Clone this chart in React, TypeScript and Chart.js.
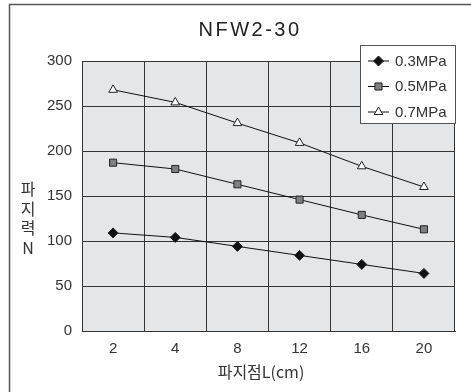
import { useEffect, useRef } from "react";
import { Chart, registerables } from "chart.js";
import { drawPoint } from "chart.js/helpers";

Chart.register(...registerables);

const categories = ["2", "4", "8", "12", "16", "20"];
const values03 = [109, 104, 94, 84, 74, 64];
const values05 = [187, 180, 163, 146, 129, 113];
const values07 = [268, 254, 231, 209, 183, 160];
const seriesLabels = ["0.3MPa", "0.5MPa", "0.7MPa"];
const chartTitle = "NFW2-30";
const yTitleChars = ["파", "지", "력", "N"];
const xTitle = "파지점L(cm)";
const yMin = 0;
const yMax = 300;
const yStep = 50;

const FONT = "'Liberation Sans', 'Noto Sans CJK KR', sans-serif";
const KFONT = "'Noto Sans CJK KR', 'Liberation Sans', sans-serif";

export default function App() {
  const ref = useRef<HTMLCanvasElement | null>(null);

  useEffect(() => {
    const canvas = ref.current;
    if (!canvas) return;

    const extras = {
      id: "extras",
      beforeDraw(chart: any) {
        const { ctx, chartArea } = chart;
        ctx.save();
        ctx.fillStyle = "#ffffff";
        ctx.fillRect(0, 0, chart.width, chart.height);
        ctx.fillStyle = "#e5e6e8";
        ctx.fillRect(chartArea.left, chartArea.top, chartArea.right - chartArea.left, chartArea.bottom - chartArea.top);
        ctx.restore();
      },
      afterDraw(chart: any) {
        const { ctx } = chart;
        ctx.save();
        // frame
        ctx.strokeStyle = "#555";
        ctx.lineWidth = 1.5;
        ctx.beginPath();
        ctx.moveTo(9.5, chart.height);
        ctx.lineTo(9.5, 4.5);
        ctx.lineTo(chart.width, 4.5);
        ctx.stroke();

        // title
        ctx.fillStyle = "#222";
        ctx.font = `20px ${FONT}`;
        (ctx as any).letterSpacing = "2.5px";
        ctx.textAlign = "center";
        ctx.textBaseline = "middle";
        ctx.fillText(chartTitle, 250, 30);
        (ctx as any).letterSpacing = "0px";

        // y title
        ctx.font = `16px ${KFONT}`;
        ctx.fillStyle = "#333";
        yTitleChars.forEach((c, i) => {
          ctx.fillText(c, 28, 189 + i * 19.7);
        });

        // x title
        ctx.font = `16px ${KFONT}`;
        ctx.fillText(xTitle, 261, 372);

        // legend
        const lx = 360.5, ly = 45.5, lw = 95, lh = 78;
        ctx.fillStyle = "#ffffff";
        ctx.fillRect(lx, ly, lw, lh);
        ctx.strokeStyle = "#555";
        ctx.lineWidth = 1;
        ctx.strokeRect(lx, ly, lw, lh);
        const ds = chart.data.datasets;
        ds.forEach((d: any, i: number) => {
          const y = 61 + i * 25.5;
          ctx.strokeStyle = "#111";
          ctx.lineWidth = 1;
          ctx.beginPath();
          ctx.moveTo(368, y);
          ctx.lineTo(389, y);
          ctx.stroke();
          ctx.fillStyle = d.pointBackgroundColor;
          ctx.strokeStyle = d.pointBorderColor;
          ctx.lineWidth = 1;
          drawPoint(ctx, { pointStyle: d.pointStyle, radius: d.pointRadius, borderWidth: 1, rotation: 0 } as any, 378.5, y);
          ctx.fillStyle = "#333";
          ctx.font = `15px ${FONT}`;
          ctx.textAlign = "left";
          ctx.textBaseline = "middle";
          ctx.fillText(d.label, 395, y + 0.5);
        });
        ctx.restore();
      },
    };

    const mk = (label: string, data: number[], style: string, bg: string, radius: number) => ({
      label,
      data,
      borderColor: "#111",
      borderWidth: 1,
      pointStyle: style,
      pointRadius: radius,
      pointBackgroundColor: bg,
      pointBorderColor: "#222",
      pointBorderWidth: 1,
      tension: 0,
      fill: false,
    });

    const chart = new Chart(canvas, {
      type: "line",
      data: {
        labels: categories,
        datasets: [
          mk(seriesLabels[0], values03, "rectRot", "#111", 5),
          mk(seriesLabels[1], values05, "rect", "#808080", 5),
          mk(seriesLabels[2], values07, "triangle", "#ffffff", 5),
        ],
      },
      options: {
        animation: false,
        responsive: false,
        maintainAspectRatio: false,
        layout: { padding: { top: 61, right: 16, left: 0, bottom: 0 } },
        plugins: {
          legend: { display: false },
          title: { display: false },
          tooltip: { enabled: false },
        },
        scales: {
          x: {
            offset: true,
            grid: { offset: true, color: "#333", lineWidth: 1, drawTicks: false },
            border: { color: "#333", width: 1 },
            ticks: { color: "#333", font: { family: FONT, size: 15 }, padding: 9 },
            afterFit(scale: any) {
              scale.height = 61;
            },
          },
          y: {
            min: yMin,
            max: yMax,
            grid: { color: "#333", lineWidth: 1, drawTicks: false },
            border: { color: "#333", width: 1 },
            ticks: { stepSize: yStep, color: "#333", font: { family: FONT, size: 15 }, padding: 10 },
            afterFit(scale: any) {
              scale.width = 82;
            },
          },
        },
      } as any,
      plugins: [extras],
    });
    return () => chart.destroy();
  }, []);

  return (
    <div style={{ position: "fixed", left: 0, top: 0, width: 471, height: 392 }}>
      <canvas ref={ref} width={471} height={392} style={{ width: 471, height: 392, display: "block" }} />
    </div>
  );
}
